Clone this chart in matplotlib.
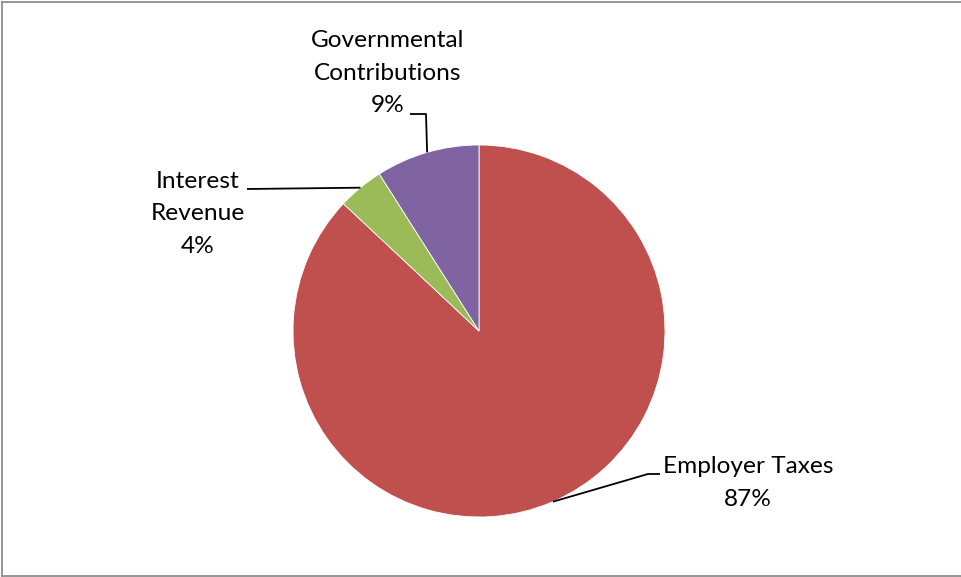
import numpy as np
import matplotlib.pyplot as plt
from matplotlib.lines import Line2D

labels = ["Employer Taxes", "Interest\nRevenue", "Governmental\nContributions"]
values = [87, 4, 9]
colors = ["#C0504D", "#9BBB59", "#8064A2"]

W, H = 961, 577
fig = plt.figure(figsize=(W / 100, H / 100), dpi=100)
fig.patch.set_facecolor("white")

# pie axes: center (479, 331) px, radius 186 px
cx, cy, r = 479, 331, 186
ax = fig.add_axes([(cx - r) / W, 1 - (cy + r) / H, 2 * r / W, 2 * r / H])
wedges, _ = ax.pie(values, colors=colors, startangle=90, counterclock=False,
                   wedgeprops=dict(edgecolor="white", linewidth=0.6))
ax.set_xlim(-1, 1)
ax.set_ylim(-1, 1)
ax.set_aspect("equal")


def px(x, y):
    return ((x - cx) / r, (cy - y) / r)


# label text position (px) and leader path (after edge point), per slice
text_pos = [(748, 483), (198, 214), (388, 73)]
leader = [[(648, 474), (660, 474)],
          [(247, 189)],
          [(426, 114), (410, 114)]]

for w, lab, v, tp, path in zip(wedges, labels, values, text_pos, leader):
    ang = np.deg2rad((w.theta1 + w.theta2) / 2)
    pts = [(np.cos(ang), np.sin(ang))] + [px(*p) for p in path]
    xs, ys = zip(*pts)
    ax.plot(xs, ys, color="black", lw=1.3, clip_on=False, solid_capstyle="butt")
    tx, ty = px(*tp)
    ax.text(tx, ty, f"{lab}\n{v}%", ha="center", va="center", fontsize=17.6,
            family="Lato", linespacing=1.66, color="black")

# outer chart border
fig.add_artist(Line2D([1.5 / W, 1.5 / W], [1.5 / H, 1 - 1.5 / H], color="#8c8c8c", lw=1.3))
fig.add_artist(Line2D([1.5 / W, 1], [1 - 1.5 / H, 1 - 1.5 / H], color="#8c8c8c", lw=1.3))
fig.add_artist(Line2D([1.5 / W, 1], [1.5 / H, 1.5 / H], color="#8c8c8c", lw=1.3))

fig.savefig("out.png", dpi=100)
